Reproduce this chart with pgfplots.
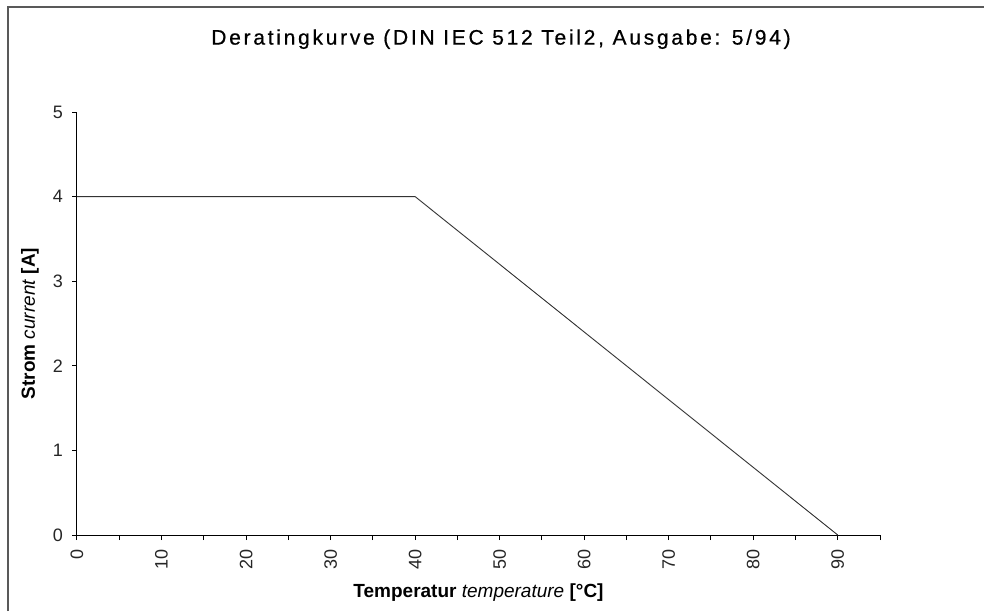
\documentclass[border=0pt]{standalone}
\usepackage{fontspec}
\setmainfont{Liberation Sans}
\usepackage{pgfplots}
\pgfplotsset{compat=1.18}
\begin{document}
\begin{tikzpicture}[x=1pt,y=1pt]
\path[use as bounding box] (0,0) rectangle (984,611);
\fill[white] (0,0) rectangle (984,611);
\draw[line width=2pt, black!65] (8,0) -- (8,604) -- (984,604);
\begin{axis}[
  at={(77pt,76pt)}, anchor=south west,
  scale only axis, width=803pt, height=423pt,
  xmin=0, xmax=95, ymin=0, ymax=5,
  axis lines=left, axis line style={-, line width=1pt, black},
  xtick={0,10,...,90}, minor xtick={5,15,...,95},
  ytick={0,1,...,5},
  tick align=outside, major tick length=5pt, minor tick length=5pt,
  tick style={black, line width=1pt},
  /pgf/number format/assume math mode=true,
  every tick label/.append style={font=\fontsize{18}{18}\selectfont, text=black!85},
  xticklabel style={rotate=90, anchor=east, inner sep=2pt},
  yticklabel style={inner sep=2pt},
  xticklabel shift=7pt, yticklabel shift=7pt,
  title={\addfontfeature{LetterSpace=13,FakeBold=0.6}Deratingkurve (DIN IEC 512 Teil2, Ausgabe: 5/94)},
  title style={font=\fontsize{21}{21}\selectfont, text=black, at={(0.528,1.158)}, anchor=center},
  xlabel={\textbf{Temperatur} \textit{temperature} \textbf{[°C]}},
  xlabel style={font=\fontsize{19}{19}\selectfont, at={(0.5,-0.135)}, anchor=center},
  ylabel={\textbf{Strom} \textit{current} \textbf{[A]}},
  ylabel style={font=\fontsize{19}{19}\selectfont, at={(-0.0585,0.5)}, anchor=center},
  clip=false,
]
\addplot[black!80, line width=0.9pt] coordinates {(0,4) (40,4) (90,0)};
\end{axis}
\end{tikzpicture}
\end{document}
